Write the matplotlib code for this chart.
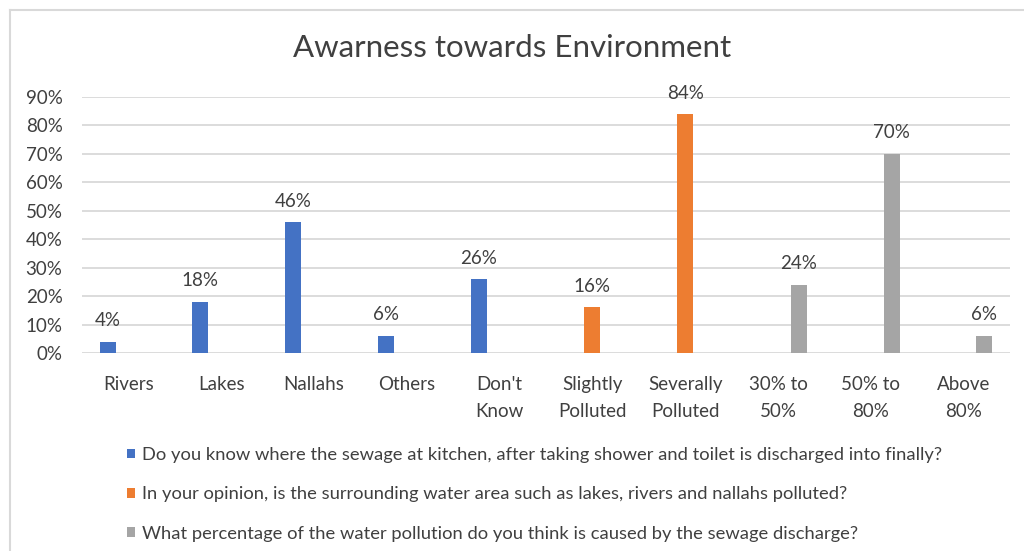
import matplotlib
matplotlib.use("Agg")
import matplotlib.pyplot as plt
from matplotlib.patches import Patch
from matplotlib.lines import Line2D
import numpy as np

plt.rcParams['font.family'] = ['Lato', 'DejaVu Sans']

categories = ['Rivers', 'Lakes', 'Nallahs', 'Others', "Don't\nKnow",
              'Slightly\nPolluted', 'Severally\nPolluted', '30% to\n50%',
              '50% to\n80%', 'Above\n80%']
sewage = [4, 18, 46, 6, 26, None, None, None, None, None]
polluted = [None, None, None, None, None, 16, 84, None, None, None]
cause = [None, None, None, None, None, None, None, 24, 70, 6]

series_names = [
    'Do you know where the sewage at kitchen, after taking shower and toilet is discharged into finally?',
    'In your opinion, is the surrounding water area such as lakes, rivers and nallahs polluted?',
    'What percentage of the water pollution do you think is caused by the sewage discharge?',
]
colors = ['#4472c4', '#ed7d31', '#a5a5a5']
yticks = [0, 10, 20, 30, 40, 50, 60, 70, 80, 90]

fig = plt.figure(figsize=(10.24, 5.51), dpi=100)
ax = fig.add_axes([82 / 1024, 1 - 353 / 551, 928 / 1024, 256 / 551])

x = np.arange(len(categories))
width = 0.172
offsets = [-0.225, 0.0, 0.225]
for vals, off, col in zip([sewage, polluted, cause], offsets, colors):
    idx = [i for i, v in enumerate(vals) if v is not None]
    hv = [vals[i] for i in idx]
    ax.bar(x[idx] + off, hv, width=width, color=col, zorder=3)
    for i, v in zip(idx, hv):
        ax.annotate(f'{v}%', (x[i] + off, v), xytext=(0, 9),
                    textcoords='offset points', ha='center', va='bottom',
                    fontsize=13.5, color='#404040')

ax.set_xlim(-0.5, len(categories) - 0.5)
ax.set_ylim(0, 90)
ax.set_yticks(yticks)
ax.set_yticklabels([f'{t}%' for t in yticks], fontsize=13.5, color='#404040')
ax.set_xticks(x)
ax.set_xticklabels(categories, fontsize=13.5, color='#404040', va='top',
                   linespacing=1.7)
ax.tick_params(axis='both', length=0)
ax.tick_params(axis='x', pad=16.5)
ax.tick_params(axis='y', pad=14)
ax.grid(axis='y', color='#d9d9d9', linewidth=1.3, zorder=0)
ax.set_axisbelow(True)
for s in ax.spines.values():
    s.set_visible(False)

fig.text(0.5, 1 - 48 / 551, 'Awarness towards Environment', ha='center',
         va='center', fontsize=22.5, color='#404040')

# chart frame (top and left edges)
fig.add_artist(Line2D([10 / 1024, 1], [1 - 10 / 551] * 2, color='#d9d9d9',
                      linewidth=1.5, transform=fig.transFigure))
fig.add_artist(Line2D([10 / 1024] * 2, [0, 1 - 10 / 551], color='#d9d9d9',
                      linewidth=1.5, transform=fig.transFigure))

handles = [Patch(facecolor=c) for c in colors]
fig.legend(handles, series_names, loc='upper left',
           bbox_to_anchor=(127 / 1024, 1 - 447 / 551), frameon=False,
           fontsize=13.2, labelcolor='#404040', handlelength=0.45,
           handleheight=0.45, handletextpad=0.35, labelspacing=1.28,
           borderaxespad=0, borderpad=0)

fig.savefig('out.png', dpi=100)
